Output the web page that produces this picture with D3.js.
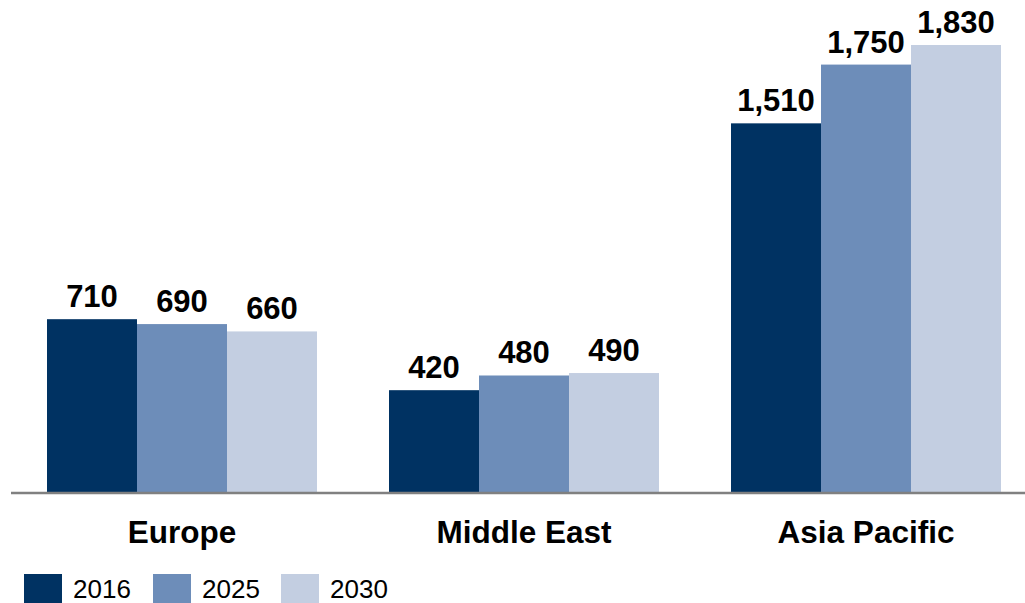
<!DOCTYPE html>
<html>
<head>
<meta charset="utf-8">
<script src="https://cdn.jsdelivr.net/npm/d3@7"></script>
<style>
  html, body { margin: 0; padding: 0; background: #fff; }
  svg { display: block; font-family: "Liberation Sans", Arial, sans-serif; }
</style>
</head>
<body>
<svg id="chart" width="1025" height="603"></svg>
<script>
// Regional values by year
const regions = ["Europe", "Middle East", "Asia Pacific"];
const years = ["2016", "2025", "2030"];
const values2016 = [710, 420, 1510];
const values2025 = [690, 480, 1750];
const values2030 = [660, 490, 1830];
const yearColors = ["#003262", "#6d8db9", "#c3cee1"];

const seriesByYear = [values2016, values2025, values2030];
const rows = regions.map((r, i) => ({
  region: r,
  vals: years.map((y, j) => ({ year: y, value: seriesByYear[j][i] }))
}));

const svg = d3.select("#chart");
const baseY = 493;

const x0 = d3.scaleBand()
  .domain(regions)
  .range([11, 1037])
  .paddingInner(72 / 342)
  .paddingOuter(36 / 342);

const x1 = d3.scaleBand()
  .domain(years)
  .range([0, x0.bandwidth()])
  .padding(0);

const y = d3.scaleLinear()
  .domain([0, 1830])
  .range([baseY, 45]);

const color = d3.scaleOrdinal().domain(years).range(yearColors);
const fmt = d3.format(",");

// Bars
const groups = svg.append("g")
  .selectAll("g")
  .data(rows)
  .join("g")
  .attr("transform", d => `translate(${x0(d.region)},0)`);

groups.selectAll("rect")
  .data(d => d.vals)
  .join("rect")
  .attr("x", d => x1(d.year))
  .attr("width", x1.bandwidth())
  .attr("y", d => y(d.value))
  .attr("height", d => baseY - y(d.value))
  .attr("fill", d => color(d.year));

// Value labels
groups.selectAll("text")
  .data(d => d.vals)
  .join("text")
  .attr("x", d => x1(d.year) + x1.bandwidth() / 2)
  .attr("y", d => y(d.value) - 12)
  .attr("text-anchor", "middle")
  .attr("font-size", 31)
  .attr("font-weight", "bold")
  .attr("fill", "#000")
  .text(d => fmt(d.value));

// Baseline axis
const axis = svg.append("g")
  .attr("transform", `translate(0,${baseY})`)
  .call(d3.axisBottom(x0).tickSize(0).tickPadding(0));
axis.select(".domain")
  .attr("d", "M11,0H1025")
  .attr("stroke", "#808080")
  .attr("stroke-width", 2.5);
axis.selectAll(".tick text")
  .attr("y", 49.5)
  .attr("dy", 0)
  .attr("font-size", 31.5)
  .attr("font-weight", "bold")
  .attr("font-family", "Liberation Sans, Arial, sans-serif")
  .attr("fill", "#000");

// Legend
const legendX = [24, 153, 281];
const legend = svg.append("g")
  .selectAll("g")
  .data(years)
  .join("g")
  .attr("transform", (d, i) => `translate(${legendX[i]},574)`);
legend.append("rect")
  .attr("width", 38)
  .attr("height", 29)
  .attr("fill", d => color(d));
legend.append("text")
  .attr("x", 49)
  .attr("y", 24)
  .attr("font-size", 26)
  .attr("fill", "#000")
  .text(d => d);
</script>
</body>
</html>
